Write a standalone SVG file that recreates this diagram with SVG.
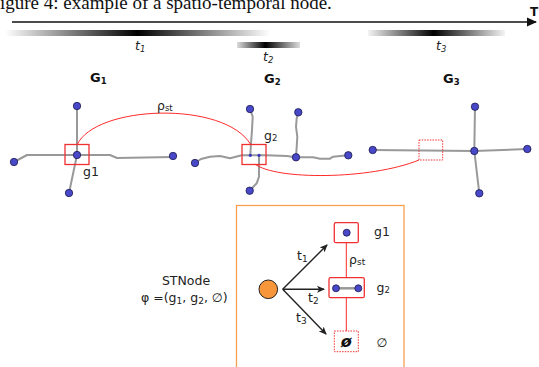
<svg xmlns="http://www.w3.org/2000/svg" width="539" height="367" viewBox="0 0 539 367">
<style>
.cap{font-family:"Liberation Serif",serif;font-size:19px;fill:#111}
.lbl{font-family:"DejaVu Sans",sans-serif;font-size:12.5px;fill:#222}
.gl{font-family:"DejaVu Sans",sans-serif;font-size:13px;font-weight:bold;fill:#111}
.tl{font-family:"DejaVu Sans",sans-serif;font-size:12.5px;font-style:italic;fill:#222}
.edge{fill:none;stroke:#999;stroke-width:2;stroke-linejoin:round}
.nd{fill:#4848c8;stroke:#1a1a50;stroke-width:0.8}
.sel{fill:none;stroke:#f03030;stroke-width:1.3}
.dot{fill:none;stroke:#f03030;stroke-width:1;stroke-dasharray:1.5 1.2}
.rho{fill:none;stroke:#ff2a2a;stroke-width:1}
.arr{stroke:#222;stroke-width:1.4;fill:none;marker-end:url(#ah)}
</style>
<defs>
<marker id="ah" markerWidth="8" markerHeight="8" refX="7" refY="4" orient="auto" markerUnits="userSpaceOnUse"><path d="M0,0.5 L8,4 L0,7.5 L2,4 Z" fill="#222"/></marker>
<marker id="ahT" markerWidth="10" markerHeight="10" refX="9" refY="5" orient="auto" markerUnits="userSpaceOnUse"><path d="M0,0.5 L10,5 L0,9.5 Z" fill="#111"/></marker>
<linearGradient id="g1" x1="0" x2="1" y1="0" y2="0"><stop offset="0" stop-color="#fff"/><stop offset="0.5" stop-color="#000"/><stop offset="1" stop-color="#fff"/></linearGradient>
<linearGradient id="g2" x1="0" x2="1" y1="0" y2="0"><stop offset="0" stop-color="#ddd"/><stop offset="0.45" stop-color="#000"/><stop offset="1" stop-color="#ddd"/></linearGradient>
<linearGradient id="g3" x1="0" x2="1" y1="0" y2="0"><stop offset="0" stop-color="#f4f4f4"/><stop offset="0.48" stop-color="#000"/><stop offset="1" stop-color="#f4f4f4"/></linearGradient>
</defs>
<rect width="539" height="367" fill="#fff"/>
<text class="cap" x="0" y="9">igure 4: example of a spatio-temporal node.</text>

<g id="time-axis">
<line x1="12" y1="22" x2="536" y2="22" stroke="#111" stroke-width="1.6" marker-end="url(#ahT)"/>
<text x="530" y="16" font-family="DejaVu Sans,sans-serif" font-size="12" font-weight="bold" fill="#111">T</text>
<rect x="5" y="30" width="265" height="6" fill="url(#g1)"/>
<rect x="237" y="42" width="63" height="6" fill="url(#g2)"/>
<rect x="368" y="30" width="137" height="6" fill="url(#g3)"/>
<text class="tl" x="135" y="50">t<tspan font-size="8.5" dy="2">1</tspan></text>
<text class="tl" x="263" y="61">t<tspan font-size="8.5" dy="2">2</tspan></text>
<text class="tl" x="436" y="50">t<tspan font-size="8.5" dy="2">3</tspan></text>
</g>

<g id="G1">
<text class="gl" x="90" y="82">G<tspan font-size="8.5" dy="2">1</tspan></text>
<path class="edge" d="M14,162 L27,155 L110,155 L117,158 L173,157"/>
<path class="edge" d="M77,106 L77,155 L69,193"/>
<circle class="nd" cx="77" cy="106" r="3.7"/>
<circle class="nd" cx="14" cy="162" r="3.7"/>
<circle class="nd" cx="173" cy="156" r="3.7"/>
<circle class="nd" cx="69" cy="193" r="3.7"/>
<circle class="nd" cx="77" cy="155" r="3.7"/>
<rect class="sel" x="65" y="144.5" width="24" height="20"/>
<text class="lbl" x="83" y="176">g1</text>
</g>

<g id="G2">
<text class="gl" x="264" y="83">G<tspan font-size="8.5" dy="2">2</tspan></text>
<path class="edge" d="M195,163 L201,159 L210,156.7 L220,156 L230,158.3 L241.7,155.3 L266,155.3 L286.7,156 L296,157.3 L313,157.3 L320,158.7 L330,158.7 L333,156.7 L348,155.3"/>
<path class="edge" d="M250,109 L252.7,116.7 L252,130 L251,143.3 L250.3,155.3"/>
<path class="edge" d="M298.3,112.3 L296.7,118.3 L296,126.7 L297.3,136.7 L296.7,146.7 L296,157.3"/>
<path class="edge" d="M259,155.3 L259,176.7 L256.7,183.3 L249.7,190.7"/>
<circle class="nd" cx="250" cy="109" r="3.7"/>
<circle class="nd" cx="298.3" cy="112.3" r="3.7"/>
<circle class="nd" cx="195" cy="163" r="3.7"/>
<circle class="nd" cx="296" cy="157.3" r="3.7"/>
<circle class="nd" cx="348.3" cy="155.3" r="3.7"/>
<circle class="nd" cx="249.7" cy="190.7" r="3.7"/>
<circle cx="250.3" cy="155.3" r="1.6" fill="#3838c0"/>
<circle cx="259" cy="155.3" r="1.6" fill="#3838c0"/>
<rect class="sel" x="242" y="144.5" width="24" height="20"/>
<text class="lbl" x="264" y="140">g<tspan font-size="8.5" dy="1">2</tspan></text>
</g>

<g id="G3">
<text class="gl" x="443" y="83">G<tspan font-size="8.5" dy="2">3</tspan></text>
<path class="edge" d="M372.7,150 L474.3,151 L527.3,149"/>
<path class="edge" d="M475,106.7 L474.3,151 L479.3,193.3"/>
<circle class="nd" cx="372.7" cy="150" r="3.7"/>
<circle class="nd" cx="475" cy="106.7" r="3.7"/>
<circle class="nd" cx="527.3" cy="149" r="3.7"/>
<circle class="nd" cx="479.3" cy="193.3" r="3.7"/>
<circle class="nd" cx="474.3" cy="151" r="3.7"/>
<rect class="dot" x="419" y="140" width="23.7" height="20"/>
</g>

<g id="connectors">
<path class="rho" d="M77,145 C95,105 225,100 251,145"/>
<path class="rho" d="M255,164 C275,180 370,180 419,160"/>
<text class="lbl" x="157" y="110">ρ<tspan font-size="8.5" dy="1">st</tspan></text>
</g>

<g id="stnode-panel">
<rect x="236.5" y="205.5" width="167.5" height="170" fill="none" stroke="#f8a050" stroke-width="1.3"/>
<text class="lbl" x="186" y="285" text-anchor="middle" font-size="13">STNode</text>
<text class="lbl" x="141" y="301.5" font-size="13.5">φ  =(g<tspan font-size="9" dy="2">1</tspan><tspan dy="-2">, g</tspan><tspan font-size="9" dy="2">2</tspan><tspan dy="-2">, ∅)</tspan></text>
<circle cx="268.3" cy="289.3" r="9.3" fill="#f7963a" stroke="#222" stroke-width="1"/>
</g>

<g id="st-connectors">
<line class="arr" x1="282.7" y1="289.3" x2="327" y2="245"/>
<line class="arr" x1="282.7" y1="289.3" x2="324" y2="289.3"/>
<line class="arr" x1="282.7" y1="289.3" x2="326" y2="334"/>
<line x1="346.3" y1="242.7" x2="346.3" y2="277.7" stroke="#ff2a2a" stroke-width="1"/>
<line x1="346.3" y1="297.7" x2="346.3" y2="331" stroke="#ff2a2a" stroke-width="1"/>
<text class="lbl" x="297" y="260" font-size="13">t<tspan font-size="9" dy="2">1</tspan></text>
<text class="lbl" x="308" y="302" font-size="13">t<tspan font-size="9" dy="2">2</tspan></text>
<text class="lbl" x="296" y="322" font-size="13">t<tspan font-size="9" dy="2">3</tspan></text>
<text class="lbl" x="349" y="264" font-size="13">ρ<tspan font-size="9" dy="1">st</tspan></text>
</g>

<g id="st-g1">
<rect class="sel" x="334.3" y="222.7" width="24" height="20" rx="1.5" fill="#fff"/>
<circle class="nd" cx="346.7" cy="232.7" r="3.5"/>
<text class="lbl" x="374" y="236" font-size="13">g1</text>
</g>
<g id="st-g2">
<rect class="sel" x="329" y="277.7" width="35.3" height="20" rx="1.5" fill="#fff"/>
<line x1="336" y1="288.3" x2="358.3" y2="288.3" stroke="#999" stroke-width="2.5"/>
<circle class="nd" cx="336" cy="288.3" r="3.5"/>
<circle class="nd" cx="358.3" cy="288.3" r="3.5"/>
<text class="lbl" x="376.5" y="291.5" font-size="13">g<tspan font-size="8.5" dy="1">2</tspan></text>
</g>
<g id="st-empty">
<rect class="dot" x="334.3" y="331" width="24" height="20.7" fill="#fff"/>
<text x="346.3" y="347" text-anchor="middle" font-family="DejaVu Sans,sans-serif" font-size="16" font-weight="bold" font-style="italic" fill="#111">ø</text>
<text class="lbl" x="376.5" y="347" font-size="13" fill="#555">∅</text>
</g>
</svg>
